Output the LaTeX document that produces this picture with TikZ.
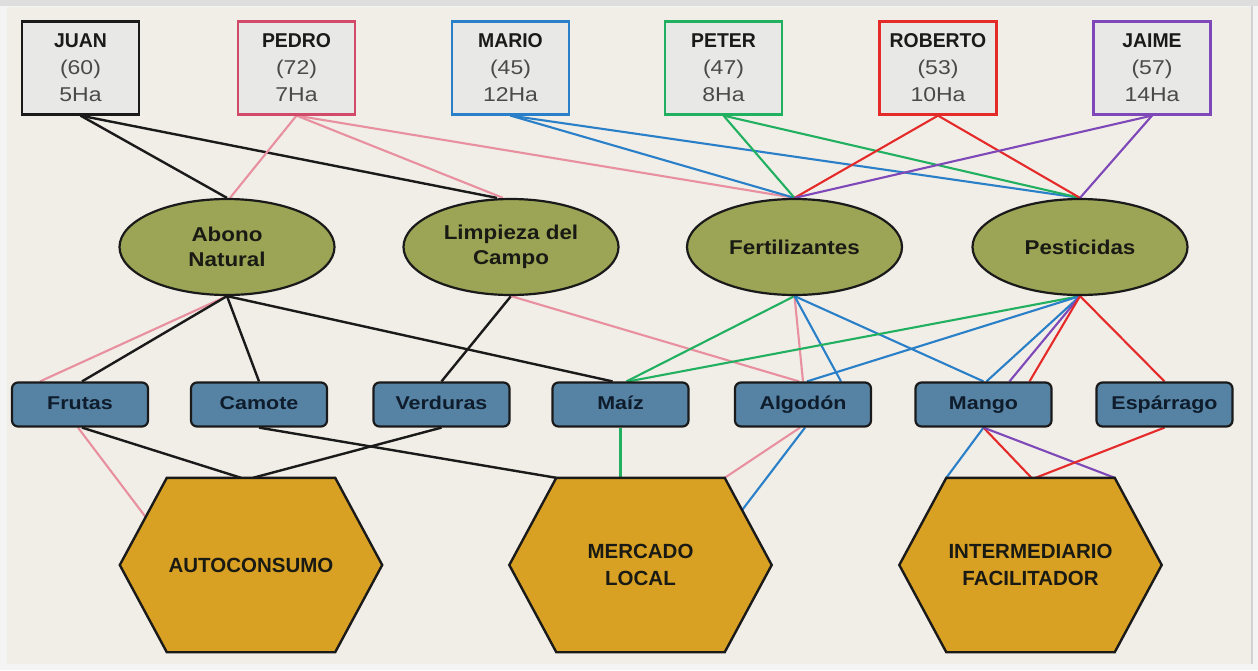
\documentclass[tikz,border=0pt]{standalone}
\usepackage{fontspec}
\setmainfont{Liberation Sans}
\newfontfamily\numfont[FakeStretch=1.15]{Liberation Sans}
\newfontfamily\namefont[FakeStretch=0.97]{Liberation Sans}
\newfontfamily\lblfont[FakeStretch=1.12]{Liberation Sans}
\newfontfamily\prodfont[FakeStretch=1.16]{Liberation Sans}
\usetikzlibrary{shapes.geometric,calc}
\pgfdeclarelayer{edgelayer}
\pgfdeclarelayer{shapelayer}
\pgfsetlayers{edgelayer,shapelayer,main}
\definecolor{bgbeige}{HTML}{F1EDE7}
\definecolor{framegray}{HTML}{F4F4F4}
\definecolor{topgray}{HTML}{DEDEDE}
\definecolor{rightgray}{HTML}{D2D2D2}
\definecolor{boxfill}{HTML}{E8E8E6}
\definecolor{olivefill}{HTML}{9BA555}
\definecolor{steelfill}{HTML}{5683A4}
\definecolor{goldfill}{HTML}{D9A123}
\definecolor{navytext}{HTML}{0E1C2C}
\definecolor{darktext}{HTML}{1A1A14}
\definecolor{numgray}{HTML}{4A4A4A}
\definecolor{lineblack}{HTML}{1A1A1A}
\definecolor{pinkline}{HTML}{E8909F}
\definecolor{pedroline}{HTML}{D24A6A}
\definecolor{blueline}{HTML}{2A80C8}
\definecolor{greenline}{HTML}{20B060}
\definecolor{redline}{HTML}{E52A2A}
\definecolor{purpleline}{HTML}{7E48B8}
\newcommand\PerName[1]{{\namefont\bfseries\color{lineblack}#1}}
\newcommand\PerNum[1]{{\numfont\color{numgray}#1}}
\begin{document}
\begin{tikzpicture}[x=1pt,y=-1pt,
  person/.style={draw, line width=2.2pt, fill=boxfill, minimum width=117pt, minimum height=93pt, inner sep=0pt, align=center, font=\fontsize{20}{27}\selectfont},
  ell/.style={ellipse, draw=lineblack, line width=2.2pt, fill=olivefill, minimum width=215pt, minimum height=96pt, inner sep=0pt, align=center, font=\lblfont\bfseries\fontsize{20}{25}\selectfont, text=darktext},
  prod/.style={draw=lineblack, rounded corners=6pt, line width=2.2pt, fill=steelfill, minimum width=136pt, minimum height=44pt, inner sep=0pt, text height=14pt, text depth=4pt, font=\prodfont\bfseries\fontsize{18.5}{22}\selectfont, text=navytext},
  hexnode/.style={minimum width=168pt, minimum height=174pt, inner sep=0pt, align=center, font=\bfseries\fontsize{20.5}{27}\selectfont, text=darktext},
  hexshape/.style={draw=lineblack, line width=2.4pt, fill=goldfill, line join=miter},
  lk/.style={line width=2.4pt, draw=lineblack},
  lp/.style={line width=2.1pt, draw=pinkline},
  lb/.style={line width=2.1pt, draw=blueline},
  lg/.style={line width=2.1pt, draw=greenline},
  lr/.style={line width=2.1pt, draw=redline},
  lv/.style={line width=2.1pt, draw=purpleline}
]
\useasboundingbox (0,0) rectangle (1258,670);
\begin{pgfonlayer}{edgelayer}
  \fill[framegray] (0,0) rectangle (1258,670);
  \fill[topgray] (0,0) rectangle (1258,6);
  \fill[bgbeige] (7,7) rectangle (1251,664);
  \fill[rightgray] (1251,6) rectangle (1253,664);
\end{pgfonlayer}

% people
\node[person, draw=lineblack] (juan) at (80.5,68) {\PerName{JUAN}\\\PerNum{(60)}\\\PerNum{5Ha}};
\node[person, draw=pedroline] (pedro) at (296.5,68) {\PerName{PEDRO}\\\PerNum{(72)}\\\PerNum{7Ha}};
\node[person, draw=blueline] (mario) at (510.5,68) {\PerName{MARIO}\\\PerNum{(45)}\\\PerNum{12Ha}};
\node[person, draw=greenline] (peter) at (723.5,68) {\PerName{PETER}\\\PerNum{(47)}\\\PerNum{8Ha}};
\node[person, draw=redline] (roberto) at (938,68) {\PerName{ROBERTO}\\\PerNum{(53)}\\\PerNum{10Ha}};
\node[person, draw=purpleline] (jaime) at (1152,68) {\PerName{JAIME}\\\PerNum{(57)}\\\PerNum{14Ha}};

% inputs
\node[ell] (abono) at (227,247) {Abono\\Natural};
\node[ell] (limp) at (511,247) {Limpieza del\\Campo};
\node[ell] (fert) at (794.5,247) {Fertilizantes};
\node[ell] (pest) at (1080,247) {Pesticidas};

% products
\node[prod] (frutas) at (80,404.5) {Frutas};
\node[prod] (camote) at (259,404.5) {Camote};
\node[prod] (verduras) at (441.5,404.5) {Verduras};
\node[prod] (maiz) at (620.5,404.5) {Maíz};
\node[prod] (algodon) at (803,404.5) {Algodón};
\node[prod] (mango) at (983.5,404.5) {Mango};
\node[prod] (esparrago) at (1164.5,404.5) {Espárrago};

% destinations
\node[hexnode] (auto) at (251,565) {AUTOCONSUMO};
\node[hexnode] (merc) at (640.5,565) {MERCADO\\LOCAL};
\node[hexnode] (inter) at (1030.5,565) {INTERMEDIARIO\\FACILITADOR};
\begin{pgfonlayer}{shapelayer}
  \foreach \h in {auto,merc,inter}{
    \path[hexshape] (\h.north west) -- (\h.north east) -- ([xshift=47pt]\h.east) -- (\h.south east) -- (\h.south west) -- ([xshift=-47pt]\h.west) -- cycle;
  }
\end{pgfonlayer}

\begin{pgfonlayer}{edgelayer}
  % people -> inputs
  \draw[lk] (juan.south) -- (abono.north);
  \draw[lk] (juan.south) -- ([xshift=-14pt]limp.north);
  \draw[lp] (pedro.south) -- ([xshift=3pt]abono.north);
  \draw[lp] (pedro.south) -- ([xshift=-8pt]limp.north);
  \draw[lp] (pedro.south) -- (fert.north);
  \draw[lb] (mario.south) -- (fert.north);
  \draw[lb] (mario.south) -- (pest.north);
  \draw[lg] (peter.south) -- (fert.north);
  \draw[lg] (peter.south) -- (pest.north);
  \draw[lr] (roberto.south) -- (fert.north);
  \draw[lr] (roberto.south) -- (pest.north);
  \draw[lv] (jaime.south) -- (fert.north);
  \draw[lv] (jaime.south) -- (pest.north);
  % inputs -> products
  \draw[lp] (abono.south) -- ([xshift=-40pt]frutas.north);
  \draw[lk] (abono.south) -- ([xshift=2pt]frutas.north);
  \draw[lk] (abono.south) -- (camote.north);
  \draw[lk] (abono.south) -- ([xshift=-8pt]maiz.north);
  \draw[lk] (limp.south) -- (verduras.north);
  \draw[lp] (limp.south) -- ([xshift=-4pt]algodon.north);
  \draw[lg] (fert.south) -- ([xshift=6pt]maiz.north);
  \draw[lp] (fert.south) -- (algodon.north);
  \draw[lb] (fert.south) -- ([xshift=38pt]algodon.north);
  \draw[lb] (fert.south) -- (mango.north);
  \draw[lg] (pest.south) -- ([xshift=8pt]maiz.north);
  \draw[lb] (pest.south) -- ([xshift=4pt]algodon.north);
  \draw[lb] (pest.south) -- ([xshift=3pt]mango.north);
  \draw[lv] (pest.south) -- ([xshift=26pt]mango.north);
  \draw[lr] (pest.south) -- ([xshift=46pt]mango.north);
  \draw[lr] (pest.south) -- (esparrago.north);
  % products -> destinations
  \draw[lp] ([xshift=-2pt]frutas.south) -- ($(auto.north west)!0.45!([xshift=-47pt]auto.west)$);
  \draw[lk] ([xshift=2pt]frutas.south) -- ([xshift=-10pt]auto.north);
  \draw[lk] (verduras.south) -- ([xshift=2pt]auto.north);
  \draw[lk] (camote.south) -- (merc.north west);
  \draw[lg] (maiz.south) -- (maiz.south |- merc.north);
  \draw[lp] ([xshift=-3pt]algodon.south) -- (merc.north east);
  \draw[lb] ([xshift=2pt]algodon.south) -- ($(merc.north east)!0.37!([xshift=47pt]merc.east)$);
  \draw[lb] (mango.south) -- (inter.north west);
  \draw[lr] (mango.south) -- ([xshift=1pt]inter.north);
  \draw[lv] (mango.south) -- (inter.north east);
  \draw[lr] (esparrago.south) -- ([xshift=5pt]inter.north);
\end{pgfonlayer}
\end{tikzpicture}
\end{document}
